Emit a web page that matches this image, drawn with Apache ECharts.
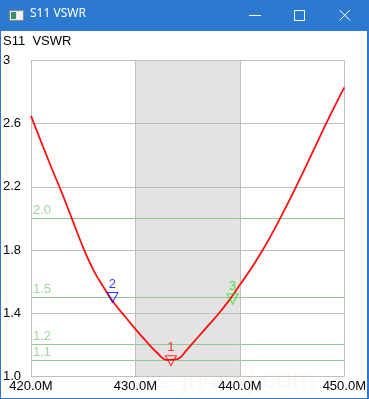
<!DOCTYPE html>
<html>
<head>
<meta charset="utf-8">
<script src="https://cdn.jsdelivr.net/npm/echarts@6/dist/echarts.min.js"></script>
<style>html,body{margin:0;padding:0;background:#fff}#c{width:369px;height:399px}</style>
</head>
<body>
<div id="c"></div>
<script>
// ---- data ----
var freqMHz = [420,421,422,423,424,425,426,427,428,429,430,431,432,433,434,435,436,437,438,439,440,441,442,443,444,445,446,447,448,449,450];
var vswr    = [2.65,2.48,2.315,2.155,1.985,1.815,1.67,1.56,1.46,1.38,1.30,1.225,1.155,1.105,1.11,1.175,1.25,1.325,1.40,1.485,1.58,1.675,1.78,1.895,2.02,2.15,2.285,2.425,2.565,2.70,2.83];
var refLevels = [2.0, 1.5, 1.2, 1.1];
var markerNames = ['1','2','3'];
var markerFreq  = [433.4, 427.8, 439.3];
var markerVswr  = [1.10, 1.50, 1.49];
var markerColors = ['#ff0000','#0000ff','#22dd22'];
var bandRange = [430, 440];
var xTicks = [420, 430, 440, 450];
var yTicks = [1.0, 1.4, 1.8, 2.2, 2.6, 3];
var chartTitle = 'S11  VSWR';
var windowTitle = 'S11 VSWR';

var chart = echarts.init(document.getElementById('c'), null, {renderer:'canvas'});
var FONT = '"Liberation Sans", Arial, sans-serif';
var blue = '#2b7ad0';
var levelColor = '#90cc90', levelLabelColor = '#a0d4a0';

var curveData = freqMHz.map(function(f,i){return [f, vswr[i]];});
var markerData = markerNames.map(function(n,i){
  return {name:n, value:[markerFreq[i], markerVswr[i]],
    itemStyle:{color:'rgba(0,0,0,0)', borderColor:markerColors[i], borderWidth:1},
    label:{color:markerColors[i]}};
});

var chromeGraphics = [
  {id:'wm', type:'text', z:0, left:153, top:366, style:{text:'\u00a9 jh4vaj.com', fontSize:28, fontFamily:FONT, fill:'rgba(245,190,150,0.13)'}},
  {id:'tb', type:'rect', z:100, shape:{x:0,y:0,width:369,height:31}, style:{fill:blue}},
  {id:'bl', type:'rect', z:100, shape:{x:0,y:31,width:1,height:368}, style:{fill:blue}},
  {id:'br', type:'rect', z:100, shape:{x:367,y:31,width:2,height:368}, style:{fill:blue}},
  {id:'bb', type:'rect', z:100, shape:{x:0,y:398,width:369,height:1}, style:{fill:blue}},
  {id:'i1', type:'rect', z:101, shape:{x:9.5,y:10.5,width:14,height:10}, style:{fill:'#e8e8e8', stroke:'#8a8a8a', lineWidth:1}},
  {id:'i2', type:'rect', z:102, shape:{x:11,y:12,width:5,height:7}, style:{fill:'#3d8c6c'}},
  {id:'i3', type:'rect', z:102, shape:{x:17,y:12,width:5,height:7}, style:{fill:'#f4f4f4'}},
  {id:'wt', type:'text', z:101, left:30, top:8, style:{text:windowTitle, fontSize:12, fontFamily:'"Noto Sans", "DejaVu Sans", sans-serif', fill:'#fff'}},
  {id:'mn', type:'line', z:101, shape:{x1:249,y1:15.5,x2:261,y2:15.5}, style:{stroke:'#fff', lineWidth:1}},
  {id:'mx', type:'rect', z:101, shape:{x:294.5,y:10.5,width:10,height:10}, style:{fill:'none', stroke:'#fff', lineWidth:1}},
  {id:'c1', type:'line', z:101, shape:{x1:339.5,y1:10,x2:350,y2:20.5}, style:{stroke:'#fff', lineWidth:1}},
  {id:'c2', type:'line', z:101, shape:{x1:350,y1:10,x2:339.5,y2:20.5}, style:{stroke:'#fff', lineWidth:1}},
  {id:'ct', type:'text', z:50, left:3, top:35, style:{text:chartTitle, fontSize:13, fontFamily:FONT, fill:'#000'}}
];

chart.setOption({
  animation:false,
  backgroundColor:'#ffffff',
  grid:{left:31, top:60.5, right:20.5, bottom:22.5},
  xAxis:{type:'value', min:xTicks[0], max:xTicks[xTicks.length-1], interval:10, z:3,
    axisLine:{show:false}, axisTick:{show:false},
    splitLine:{show:true, lineStyle:{color:'#bfbfbf', width:1}},
    axisLabel:{color:'#000', fontSize:13, fontFamily:FONT, margin:3,
      formatter:function(v){return v.toFixed(1)+'M';}}},
  yAxis:{type:'value', min:1, max:3, interval:0.4, z:3,
    axisLine:{show:false}, axisTick:{show:false},
    splitLine:{show:true, lineStyle:{color:'#bfbfbf', width:1}},
    axisLabel:{color:'#000', fontSize:13, fontFamily:FONT, margin:28, align:'left',
      formatter:function(v){ var t = yTicks.filter(function(y){return Math.abs(y-v)<1e-6;})[0]; return t===3?'3':(+v).toFixed(1);}}},
  series:[
    {type:'line', z:1, data:[], silent:true,
      markArea:{silent:true, itemStyle:{color:'#e3e3e3', opacity:1},
        data:[[{xAxis:bandRange[0]},{xAxis:bandRange[1]}]]}},
    {type:'line', z:4, data:curveData, smooth:0.4, showSymbol:false, silent:true,
      lineStyle:{color:'#ff1010', width:1.8}},
    {type:'scatter', z:6, data:markerData, symbol:'triangle', symbolRotate:180, symbolSize:[11,10], silent:true,
      label:{show:true, position:'top', distance:1, fontSize:13, fontFamily:FONT, formatter:function(p){return p.name;}}}
  ],
  graphic:chromeGraphics
});

// reference VSWR level lines, placed through the chart's own y scale and snapped to whole pixels
var x0 = chart.convertToPixel({xAxisIndex:0}, xTicks[0]);
var x1 = chart.convertToPixel({xAxisIndex:0}, xTicks[xTicks.length-1]);
var levelGraphics = [];
refLevels.forEach(function(v, i){
  var y = Math.floor(chart.convertToPixel({yAxisIndex:0}, v)) + 0.5;
  levelGraphics.push({id:'lv'+i, type:'line', z:3, shape:{x1:x0, y1:y, x2:x1, y2:y}, style:{stroke:levelColor, lineWidth:1}});
  levelGraphics.push({id:'lt'+i, type:'text', z:3, x:x0+2, y:y-2, style:{text:v.toFixed(1), fontSize:13, fontFamily:FONT, fill:levelLabelColor, textVerticalAlign:'bottom', verticalAlign:'bottom'}});
});
chart.setOption({graphic:chromeGraphics.concat(levelGraphics)});
</script>
</body>
</html>
